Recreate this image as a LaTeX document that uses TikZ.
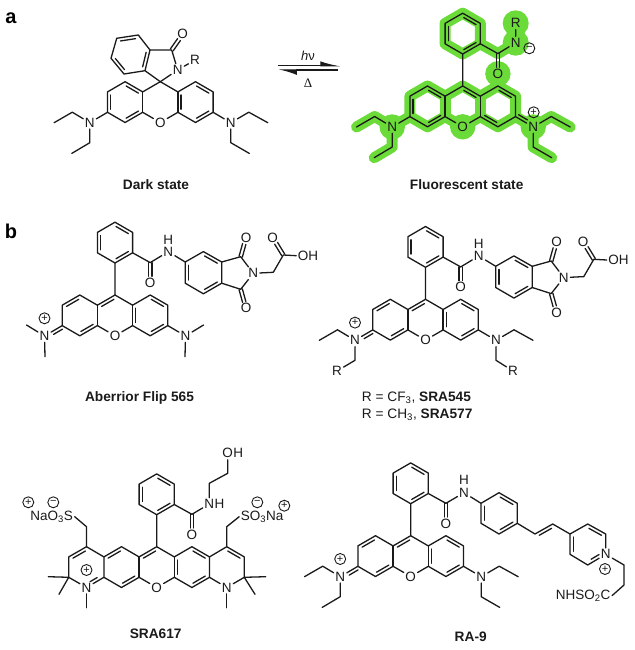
\documentclass[tikz,border=0pt]{standalone}
\usepackage{fontspec}
\setmainfont{Liberation Sans}
\newfontfamily\serifdelta{Liberation Serif}
\usetikzlibrary{calc}
\usetikzlibrary{arrows.meta}
\usetikzlibrary{backgrounds}
\definecolor{halogreen}{HTML}{6BDB39}
\definecolor{inkblack}{HTML}{1A1A1A}

% second line of a double bond, on the left of a->b
\newcommand{\dbl}[3][0.15]{\draw[bond] ($(#2)!#1!(#3)!3.2pt!90:(#3)$) -- ($(#3)!#1!(#2)!3.2pt!-90:(#2)$);}
% second line of the C=N+ bond, on the left of c->n
\newcommand{\exobond}[2]{\draw[bond] ($(#1)!0.08!(#2)!3.2pt!90:(#2)$) -- ($(#2)!0.42!(#1)!3.2pt!-90:(#1)$);}
% C=O drawn as two lines around the axis
\newcommand{\symdbl}[2]{\draw[bond] ($(#1)!1.7pt!90:(#2)$) -- ($(#2)!6.5pt!(#1)!1.7pt!-90:(#1)$);
  \draw[bond] ($(#1)!1.7pt!-90:(#2)$) -- ($(#2)!6.5pt!(#1)!1.7pt!90:(#1)$);}

% xanthene frame
\newcommand{\xancore}{
  \coordinate (c9) at (0,0);
  \coordinate (c9a) at (-17.6,10.2);
  \coordinate (c1) at (-35.2,0);
  \coordinate (c2) at (-52.8,10.2);
  \coordinate (c3) at (-52.8,30.6);
  \coordinate (c4) at (-35.2,40.8);
  \coordinate (c4a) at (-17.6,30.6);
  \node[atom] (ox) at (0,40.8) {O};
  \coordinate (c4b) at (17.6,30.6);
  \coordinate (c5) at (35.2,40.8);
  \coordinate (c6) at (52.8,30.6);
  \coordinate (c7) at (52.8,10.2);
  \coordinate (c8) at (35.2,0);
  \coordinate (c8a) at (17.6,10.2);
  \draw[bond] (c9) -- (c9a) -- (c1) -- (c2) -- (c3) -- (c4) -- (c4a) -- (ox) -- (c4b) -- (c5) -- (c6) -- (c7) -- (c8) -- (c8a) -- (c9);
  \draw[bond] (c9a) -- (c4a);
  \draw[bond] (c8a) -- (c4b);
}
% both amine nitrogens
\newcommand{\xanamine}{
  \node[atom] (nl) at (-70.5,41) {N};
  \node[atom] (nr) at (70.5,41) {N};
  \draw[bond] (c3) -- (nl);
  \draw[bond] (c6) -- (nr);
}
% ring pattern with the cation on the left
\newcommand{\leftcation}{
  \dbl{c1}{c2} \dbl{c4}{c4a} \dbl{c9}{c9a}
  \dbl{c7}{c8} \dbl{c5}{c6} \dbl{c8a}{c4b}
  \exobond{c3}{nl}
  \node[poschg] (chg) at (-70.5,23.3) {+};
}
% pendant benzene with amide carbon
\newcommand{\phenyl}{
  \coordinate (ph1) at (0,-32);
  \coordinate (ph2) at (-17.6,-42.2);
  \coordinate (ph3) at (-17.6,-62.6);
  \coordinate (ph4) at (0,-72.8);
  \coordinate (ph5) at (17.6,-62.6);
  \coordinate (ph6) at (17.6,-42.2);
  \coordinate (cam) at (35.2,-32.4);
  \node[atom] (oam) at (35.2,-12.2) {O};
  \draw[bond] (c9) -- (ph1) -- (ph2) -- (ph3) -- (ph4) -- (ph5) -- (ph6) -- (ph1);
  \dbl{ph3}{ph2} \dbl{ph5}{ph4} \dbl{ph1}{ph6}
  \draw[bond] (ph6) -- (cam);
  \symdbl{cam}{oam}
}
% phthalimide acid arm
\newcommand{\imidearm}{
  \node[atom] (nam) at (53.3,-43.3) {N};
  \node[atom,inner sep=0pt] (ham) at (53.3,-55.5) {H};
  \coordinate (i1) at (70.2,-33);
  \coordinate (i2) at (88.4,-43.4);
  \coordinate (i3) at (106.7,-33);
  \coordinate (i4) at (106.7,-11.8);
  \coordinate (i5) at (88.4,-1.2);
  \coordinate (i6) at (70.2,-11.8);
  \coordinate (ct) at (125.7,-38.3);
  \coordinate (cb) at (125.7,-5.7);
  \node[atom] (ot) at (131,-57.3) {O};
  \node[atom] (ob) at (131,13.3) {O};
  \node[atom] (nim) at (138.3,-21.7) {N};
  \coordinate (ch2) at (158.3,-22.7);
  \coordinate (cac) at (168.3,-40);
  \node[atom] (oac) at (157.7,-57.3) {O};
  \node[atom] (oh) at (193,-39.3) {OH};
  \draw[bond] (cam) -- (nam) -- (i1) -- (i2) -- (i3) -- (i4) -- (i5) -- (i6) -- (i1);
  \dbl{i3}{i2} \dbl{i1}{i6} \dbl{i5}{i4}
  \draw[bond] (i3) -- (ct) -- (nim) -- (cb) -- (i4);
  \symdbl{ct}{ot}
  \symdbl{cb}{ob}
  \draw[bond] (nim) -- (ch2) -- (cac) -- (oh.west);
  \symdbl{cac}{oac}
}
% ethyl arms on the amine nitrogens
\newcommand{\upperethyls}{
  \coordinate (e1) at (-88,30.5);
  \coordinate (e2) at (-106.2,41);
  \coordinate (f1) at (88.5,30.5);
  \coordinate (f2) at (107.5,41);
  \draw[bond] (nl) -- (e1) -- (e2);
  \draw[bond] (nr) -- (f1) -- (f2);
}
\newcommand{\lowerethyls}{
  \coordinate (d1) at (-70.5,61);
  \coordinate (d2) at (-88.5,71.7);
  \coordinate (g1) at (70.5,61);
  \coordinate (g2) at (89,71.7);
  \draw[bond] (nl) -- (d1) -- (d2);
  \draw[bond] (nr) -- (g1) -- (g2);
}

\begin{document}
\begin{tikzpicture}[x=1pt,y=-1pt]
	\tikzset{bond/.style={draw=inkblack, line width=1.3pt, line join=round, line cap=round}}
	\tikzset{atom/.style={inner sep=1.5pt, text=inkblack, font=\fontsize{13.5}{14}\selectfont}}
	\tikzset{charge/.style={shape=circle, draw=inkblack, line width=0.9pt, inner sep=0pt, minimum size=11pt, text=inkblack, font=\fontsize{11}{11}\selectfont}}
	\tikzset{poschg/.style={charge}}
	\tikzset{negchg/.style={charge}}
	\tikzset{caption/.style={inner sep=0pt, text=inkblack, font=\fontsize{13.7}{16}\selectfont}}
	\tikzset{tag/.style={inner sep=0pt, text=black, font=\fontsize{20}{20}\selectfont\bfseries}}
	\tikzset{halo/.style={draw=halogreen, line width=11pt, line cap=round, line join=round}}
	\useasboundingbox (0,0) rectangle (634,650);

	%panel tags
	\node[tag] (taga) at (11,18) {a};
	\node[tag] (tagb) at (11,231) {b};

	%dark state
	\begin{scope}[shift={(160.3,81.7)},name prefix=dk-]
		\xancore
		\xanamine
		\upperethyls
		\lowerethyls
		\dbl{c9a}{c1} \dbl{c2}{c3} \dbl{c4}{c4a}
		\dbl{c7}{c8} \dbl{c5}{c6} \dbl{c8a}{c4b}
		\coordinate (b1) at (-15.3,-11);
		\coordinate (b2) at (-10.3,-31.7);
		\coordinate (b3) at (-22,-46.7);
		\coordinate (b4) at (-43.6,-43.4);
		\coordinate (b5) at (-49.3,-23.4);
		\coordinate (b6) at (-36.3,-7.7);
		\coordinate (cl) at (11.4,-31.7);
		\node[atom] (ol) at (22.4,-47.4) {O};
		\node[atom] (nla) at (17.4,-11.7) {N};
		\node[atom] (rl) at (34.7,-21.7) {R};
		\draw[bond] (c9) -- (b1) -- (b2) -- (b3) -- (b4) -- (b5) -- (b6) -- (b1);
		\dbl{b1}{b2} \dbl{b3}{b4} \dbl{b5}{b6}
		\draw[bond] (b2) -- (cl) -- (nla) -- (c9);
		\draw[bond] (nla) -- (rl);
		\symdbl{cl}{ol}
	\end{scope}
	\node[caption] (dark) at (156,184.3) {\bfseries Dark state};

	%equilibrium arrows
	\coordinate (eqtl) at (278,65.7);
	\coordinate (eqtr) at (341,65.7);
	\coordinate (eqbl) at (277.7,70);
	\coordinate (eqbr) at (338,70);
	\draw[line width=1.3pt, inkblack, -{Latex[left,length=17pt,width=9pt]}] (eqtl) -- (eqtr);
	\draw[line width=1.3pt, inkblack, -{Latex[left,length=16pt,width=10pt]}] (eqbr) -- (eqbl);
	\node[inner sep=0pt, text=inkblack, font=\fontsize{13}{14}\selectfont] (hnu) at (308,55.5) {\textit{h}ν};
	\node[inner sep=0pt, text=inkblack, font=\fontsize{13}{14}\selectfont\serifdelta] (heat) at (308,83) {Δ};

	%fluorescent state
	\begin{scope}[shift={(462.7,86)},name prefix=fl-]
		\xancore
		\xanamine
		\upperethyls
		\lowerethyls
		\phenyl
		\dbl{c9a}{c1} \dbl{c2}{c3} \dbl{c4}{c4a} \dbl{c8a}{c9}
		\dbl{c7}{c8} \dbl{c4b}{c5}
		\exobond{c6}{nr}
		\node[poschg] (chg) at (71,26.3) {+};
		\node[atom] (nam) at (53,-43.3) {N};
		\node[atom] (rn) at (53,-62.7) {R};
		\node[negchg] (nchg) at (66.6,-37.7) {−};
		\draw[bond] (cam) -- (nam) -- (rn);
		\begin{scope}[on background layer]
			\draw[halo] (ph1) -- (ph2) -- (ph3) -- (ph4) -- (ph5) -- (ph6) -- cycle;
			\draw[halo] (c9) -- (c9a) -- (c1) -- (c2) -- (c3) -- (c4) -- (c4a) -- (ox.center) -- (c4b) -- (c5) -- (c6) -- (c7) -- (c8) -- (c8a) -- cycle;
			\draw[halo] (c9a) -- (c4a);
			\draw[halo] (c8a) -- (c4b);
			\draw[halo] (e2) -- (e1) -- (nl.center) -- (d1) -- (d2);
			\draw[halo] (c3) -- (nl.center);
			\draw[halo] (f2) -- (f1) -- (nr.center) -- (g1) -- (g2);
			\draw[halo] (c6) -- (nr.center);
			\draw[halo] (ph6) -- (cam) -- (nam.center) -- (rn.center);
			\fill[halogreen] (ox.center) circle[radius=12.7];
			\fill[halogreen] (nl.center) circle[radius=12.7];
			\fill[halogreen] (nr.center) circle[radius=12.7];
			\fill[halogreen] (oam.center) circle[radius=12.7];
			\fill[halogreen] (nam.center) circle[radius=13];
			\fill[halogreen] (rn.center) circle[radius=13];
		\end{scope}
	\end{scope}
	\node[caption] (fluor) at (466.7,184.3) {\bfseries Fluorescent state};

	%aberrior flip
	\begin{scope}[shift={(115,295)},name prefix=ab-]
		\xancore
		\xanamine
		\phenyl
		\imidearm
		\leftcation
		\coordinate (ml) at (-88.5,30);
		\coordinate (mk) at (-70,61.7);
		\coordinate (mr) at (88.5,30);
		\coordinate (ms) at (70,61.7);
		\draw[bond] (nl) -- (ml);
		\draw[bond] (nl) -- (mk);
		\draw[bond] (nr) -- (mr);
		\draw[bond] (nr) -- (ms);
	\end{scope}
	\node[caption] (flipname) at (139.5,398) {\bfseries Aberrior Flip 565};

	%sra545 and sra577
	\begin{scope}[shift={(425.5,299.3)},name prefix=sr-]
		\xancore
		\xanamine
		\phenyl
		\imidearm
		\leftcation
		\upperethyls
		\coordinate (d1) at (-70.5,61);
		\node[atom] (rl) at (-88.5,71.7) {R};
		\coordinate (g1) at (70.5,61);
		\node[atom] (rr) at (87.5,71.7) {R};
		\draw[bond] (nl) -- (d1) -- (rl);
		\draw[bond] (nr) -- (g1) -- (rr);
	\end{scope}
	\node[caption,anchor=west] (rcf) at (361.7,397.7) {R = CF\textsubscript{3}, \textbf{SRA545}};
	\node[caption,anchor=west] (rch) at (361.7,414.7) {R = CH\textsubscript{3}, \textbf{SRA577}};

	%sra617
	\begin{scope}[shift={(156.7,546.7)},name prefix=so-]
		\xancore
		\phenyl
		\dbl{c1}{c2} \dbl{c4}{c4a} \dbl{c9}{c9a}
		\dbl{c7}{c8} \dbl{c5}{c6} \dbl{c8a}{c4b}
		\coordinate (d1) at (-70.2,0);
		\coordinate (d2) at (-88,10.2);
		\coordinate (d3) at (-88,30.6);
		\node[atom] (nq) at (-70.2,40.8) {N};
		\coordinate (e1) at (70,0);
		\coordinate (e2) at (87.6,10.2);
		\coordinate (e3) at (87.6,30.6);
		\node[atom] (nw) at (70,40.8) {N};
		\draw[bond] (c2) -- (d1) -- (d2) -- (d3) -- (nq) -- (c3);
		\draw[bond] (c7) -- (e1) -- (e2) -- (e3) -- (nw) -- (c6);
		\dbl{d1}{d2} \dbl{e2}{e1}
		\dbl[0.3]{nq}{c3}
		\node[poschg] (chgq) at (-70.2,23.3) {+};
		%methyls
		\coordinate (me1) at (-108.4,30);
		\coordinate (me2) at (-97.7,47.6);
		\coordinate (me3) at (-70.2,61);
		\coordinate (me4) at (109,30);
		\coordinate (me5) at (98.3,47.6);
		\coordinate (me6) at (70,61);
		\draw[bond] (d3) -- (me1);
		\draw[bond] (d3) -- (me2);
		\draw[bond] (nq) -- (me3);
		\draw[bond] (e3) -- (me4);
		\draw[bond] (e3) -- (me5);
		\draw[bond] (nw) -- (me6);
		%sulfonates
		\coordinate (cl2) at (-70.2,-20);
		\coordinate (cr2) at (70,-20);
		\node[atom,anchor=east] (sl) at (-82,-30) {NaO\textsubscript{3}S};
		\node[atom,anchor=west] (sr) at (82.5,-30) {SO\textsubscript{3}Na};
		\draw[bond] (d1) -- (cl2) -- (sl.east);
		\draw[bond] (e1) -- (cr2) -- (sr.west);
		\node[poschg] (na1) at (-128.4,-44.4) {+};
		\node[negchg] (so1) at (-103.4,-44.4) {−};
		\node[negchg] (so2) at (100.6,-44.4) {−};
		\node[poschg] (na2) at (127.6,-41) {+};
		%hydroxyethyl amide
		\node[atom] (nam) at (52.6,-42.7) {N};
		\node[atom,anchor=west,inner xsep=0pt,xshift=-1.5pt] (ham) at (nam.east) {H};
		\coordinate (h1) at (52.6,-63.4);
		\coordinate (h2) at (71,-73.4);
		\node[atom] (oxh) at (71,-93.4) {O};
		\node[atom,anchor=west,inner xsep=0pt,xshift=-1.5pt] (hxh) at (oxh.east) {H};
		\draw[bond] (cam) -- (nam) -- (h1) -- (h2) -- (oxh);
	\end{scope}
	\node[caption] (soname) at (155.7,634) {\bfseries SRA617};

	%ra-9
	\begin{scope}[shift={(410.7,535.7)},name prefix=rn-]
		\xancore
		\xanamine
		\phenyl
		\leftcation
		\upperethyls
		\lowerethyls
		\node[atom] (nam) at (53.3,-43) {N};
		\node[atom,inner sep=0pt] (ham) at (53.3,-55.5) {H};
		\coordinate (p1) at (70.3,-32.4);
		\coordinate (p2) at (88.3,-43);
		\coordinate (p3) at (106.6,-32.4);
		\coordinate (p4) at (106.6,-12.4);
		\coordinate (p5) at (88.3,-1.7);
		\coordinate (p6) at (70.3,-12.4);
		\coordinate (v1) at (124.3,-1.7);
		\coordinate (v2) at (142,-11.7);
		\coordinate (y1) at (159.3,-1.7);
		\coordinate (y2) at (177,-11.7);
		\coordinate (y3) at (195,-1.7);
		\node[atom] (npy) at (195,18.6) {N};
		\coordinate (y5) at (177,29.3);
		\coordinate (y6) at (159.3,18.6);
		\coordinate (k1) at (213.3,29.3);
		\coordinate (k2) at (213.3,49.3);
		\node[atom,anchor=east] (nhs) at (201.3,60) {NHSO\textsubscript{2}C};
		\draw[bond] (cam) -- (nam) -- (p1) -- (p2) -- (p3) -- (p4) -- (p5) -- (p6) -- (p1);
		\dbl{p3}{p2} \dbl{p1}{p6} \dbl{p5}{p4}
		\draw[bond] (p4) -- (v1) -- (v2) -- (y1) -- (y2) -- (y3) -- (npy) -- (y5) -- (y6) -- (y1);
		\dbl{v2}{v1}
		\dbl{y3}{y2} \dbl{y1}{y6}
		\dbl[0.28]{y5}{npy}
		\draw[bond] (npy) -- (k1) -- (k2) -- (nhs.east);
		\node[poschg] (chgp) at (194.3,33.3) {+};
	\end{scope}
	\node[caption] (raname) at (470.7,636.7) {\bfseries RA-9};
\end{tikzpicture}
\end{document}
